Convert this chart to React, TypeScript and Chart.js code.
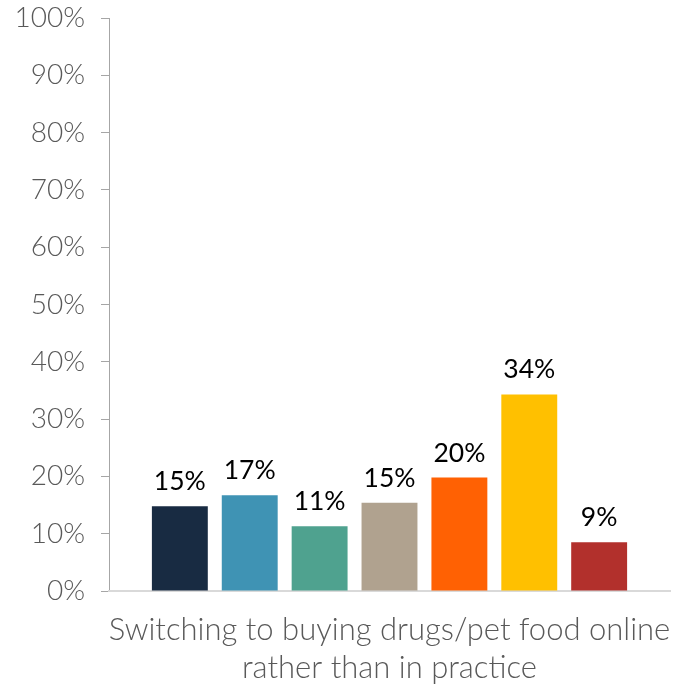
import React, { useEffect, useRef } from "react";
import { Chart, registerables } from "chart.js";

Chart.register(...registerables);

const categories = [["Switching to buying drugs/pet food online", "rather than in practice"]];
const seriesNames = ["S1", "S2", "S3", "S4", "S5", "S6", "S7"];
const seriesValues = [14.8, 16.7, 11.3, 15.4, 19.8, 34.3, 8.5];
const seriesLabels = ["15%", "17%", "11%", "15%", "20%", "34%", "9%"];
const seriesColors = ["#182B42", "#3F93B4", "#4FA28F", "#B0A28F", "#FF6103", "#FFC000", "#B2302C"];

const labelPlugin = {
  id: "barLabels",
  afterDatasetsDraw(chart: any) {
    const ctx = chart.ctx;
    ctx.save();
    ctx.font = "400 26.5px Lato";
    ctx.fillStyle = "#000000";
    ctx.textAlign = "center";
    ctx.textBaseline = "alphabetic";
    chart.data.datasets.forEach((ds: any, i: number) => {
      const meta = chart.getDatasetMeta(i);
      meta.data.forEach((el: any) => {
        ctx.fillText(seriesLabels[i], el.x, el.y - 16);
      });
    });
    ctx.restore();
  },
};

const zeroPad = (s: any) => {
  s.paddingTop = 0;
  s.paddingBottom = 0;
  s.paddingLeft = 0;
  s.paddingRight = 0;
};

export default function App() {
  const ref = useRef<HTMLCanvasElement>(null);
  useEffect(() => {
    if (!ref.current) return;
    const chart = new Chart(ref.current, {
      type: "bar",
      data: {
        labels: categories as any,
        datasets: seriesNames.map((n, i) => ({
          label: n,
          data: [seriesValues[i]],
          backgroundColor: seriesColors[i],
          categoryPercentage: 0.872,
          barPercentage: 0.8,
        })),
      },
      options: {
        animation: false,
        responsive: true,
        maintainAspectRatio: false,
        layout: { padding: { top: 18, right: 10, left: 0, bottom: 0 } },
        plugins: { legend: { display: false }, tooltip: { enabled: false } },
        scales: {
          y: {
            min: 0,
            max: 100,
            afterFit: (s: any) => { s.width = 109; zeroPad(s); },
            ticks: {
              stepSize: 10,
              padding: 16,
              color: "#595959",
              font: { family: "Lato", size: 28, weight: "300" as any },
              callback: (v: any) => v + "%",
            },
            grid: { drawOnChartArea: false, drawTicks: true, tickLength: 8, color: "#A6A6A6" },
            border: { color: "#A6A6A6", width: 1 },
          },
          x: {
            afterFit: (s: any) => { s.height = 98; zeroPad(s); },
            ticks: {
              padding: 20,
              color: "#595959",
              font: { family: "Lato", size: 31, weight: "300" as any, lineHeight: 1.23 },
              maxRotation: 0,
              autoSkip: false,
            },
            grid: { display: false, drawTicks: false },
            border: { color: "#D9D9D9", width: 2 },
          },
        },
      },
      plugins: [labelPlugin],
    });
    return () => chart.destroy();
  }, []);
  return (
    <div style={{ position: "fixed", left: 0, top: 0, width: 680, height: 689, background: "#fff" }}>
      <canvas ref={ref} />
    </div>
  );
}
